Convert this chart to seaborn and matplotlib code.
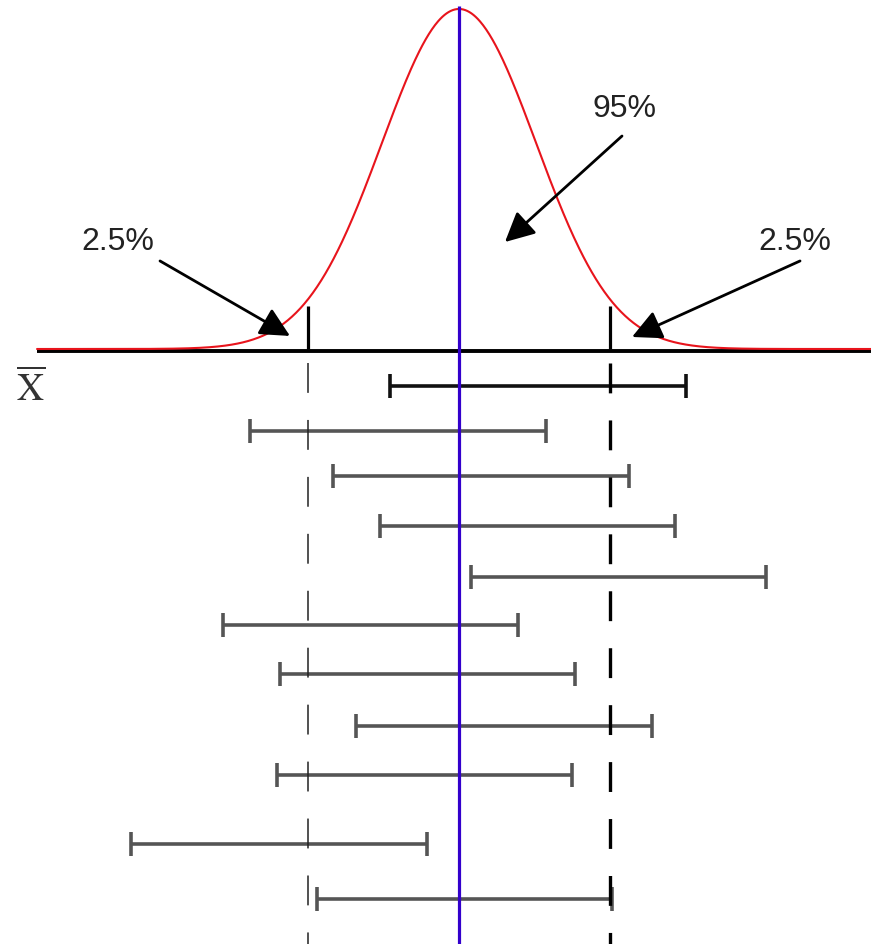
import numpy as np
import matplotlib
matplotlib.use("Agg")
import matplotlib.pyplot as plt
import matplotlib.transforms as mtransforms
import seaborn as sns

sns.set_theme(style="white")
plt.rcParams['font.family'] = ['Liberation Sans', 'DejaVu Sans']
plt.rcParams['mathtext.fontset'] = 'stix'
plt.rcParams['lines.scale_dashes'] = False

# ---- data (standard-normal units) ----
z_crit = 1.96
sample_means = [1.03, -0.79, 0.29, 0.89, 2.07, -1.15, -0.41, 0.58, -0.45, -2.34, 0.07]
half_width = 1.92
row_pos = [-0.043, -0.096, -0.149, -0.208, -0.268, -0.324, -0.381, -0.442, -0.500, -0.581, -0.645]
tail_label = "2.5%"
center_label = "95%"
xbar_label = r'$\overline{\mathrm{X}}$'

x_curve = np.linspace(-5.48, 5.36, 800)
pdf = np.exp(-x_curve**2 / 2) / np.sqrt(2 * np.pi)

fig = plt.figure(figsize=(8.71, 9.45), dpi=100)
ax = fig.add_axes([0, 0, 1, 1])
ax.set_xlim(-459 / 77, 412 / 77)
ax.set_ylim(-595 / 852.3, 350 / 852.3)
ax.axis('off')

# baseline (shifted a touch below the curve)
shift = mtransforms.offset_copy(ax.transData, fig=fig, x=0, y=-2, units='dots')
ax.plot([x_curve[0], x_curve[-1]], [0, 0], color='black', lw=2.8, transform=shift, zorder=2, solid_capstyle='butt')

# normal curve
sns.lineplot(x=x_curve, y=pdf, color='#e8141c', lw=1.5, ax=ax, zorder=3)

# critical ticks
for z in (-z_crit, z_crit):
    ax.plot([z, z], [0, 0.0505], color='black', lw=2.3, zorder=4, solid_capstyle='butt')

# dashed critical lines
ax.plot([-z_crit, -z_crit], [-0.016, -0.70], color='#222222', lw=1.1,
        dashes=(21.5, 19.5), zorder=6)
ax.plot([z_crit, z_crit], [-0.016, -0.70], color='black', lw=2.4,
        dashes=(21.5, 19.5), zorder=6)

# confidence intervals
colors = ['#111111'] + ['#555555'] * (len(sample_means) - 1)
for m, y, c in zip(sample_means, row_pos, colors):
    ax.errorbar([m], [y], xerr=[half_width], fmt='none', ecolor=c,
                elinewidth=2.6, capsize=8.5, capthick=2.6, zorder=5)

# population mean line
ax.plot([0, 0], [0.402, -0.70], color='#3300cc', lw=2.3, zorder=7, solid_capstyle='butt')

# labels and arrows
arrow_kw = dict(arrowstyle='-|>,head_length=1.5,head_width=0.75', color='black', lw=2.0,
                shrinkA=0, shrinkB=0)
txt_kw = dict(fontsize=23, color='#222222', ha='center', va='center')
ax.text(-4.43, 0.1265, tail_label, **txt_kw)
ax.text(2.143, 0.2826, center_label, **txt_kw)
ax.text(4.364, 0.1265, tail_label, **txt_kw)
ax.annotate('', xy=(-2.195, 0.0153), xytext=(-3.883, 0.1033), arrowprops=arrow_kw, zorder=8)
ax.annotate('', xy=(0.597, 0.1255), xytext=(2.117, 0.2499), arrowprops=arrow_kw, zorder=8)
ax.annotate('', xy=(2.247, 0.0141), xytext=(4.429, 0.1033), arrowprops=arrow_kw, zorder=8)

ax.text(-5.57, -0.046, xbar_label, fontsize=27, color='#333333', ha='center', va='center')

fig.savefig('out.png', dpi=100)
